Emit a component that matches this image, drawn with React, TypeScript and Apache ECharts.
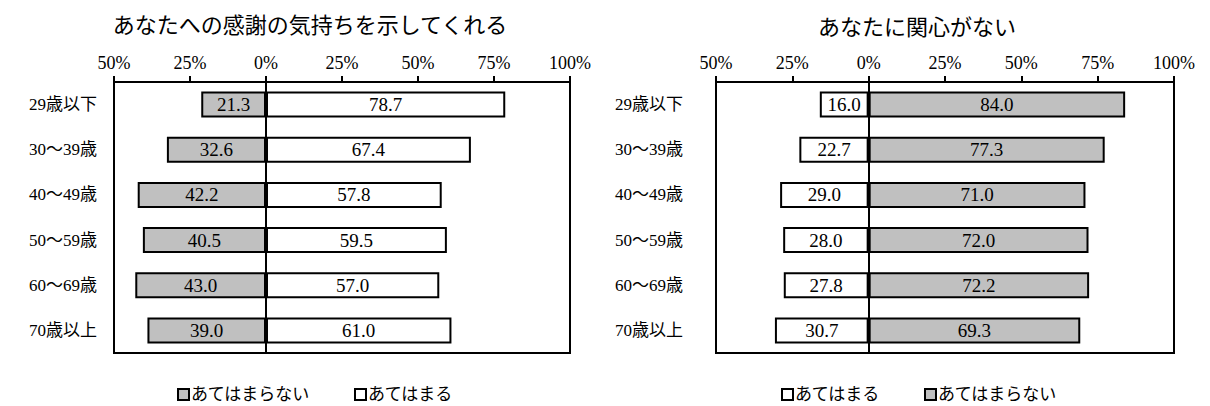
import React, { useEffect, useRef } from "react";
import * as echarts from "echarts";

const categories = ["29歳以下", "30～39歳", "40～49歳", "50～59歳", "60～69歳", "70歳以上"];
const leftTitle = "あなたへの感謝の気持ちを示してくれる";
const rightTitle = "あなたに関心がない";
const thanksNo = [21.3, 32.6, 42.2, 40.5, 43.0, 39.0];
const thanksYes = [78.7, 67.4, 57.8, 59.5, 57.0, 61.0];
const interestYes = [16.0, 22.7, 29.0, 28.0, 27.8, 30.7];
const interestNo = [84.0, 77.3, 71.0, 72.0, 72.2, 69.3];
const YES = "あてはまる";
const NO = "あてはまらない";

const FONT = "'Liberation Serif', 'Noto Sans CJK JP', serif";
const GRAY = "#c0c0c0";

export default function App() {
  const ref = useRef<HTMLDivElement>(null);
  useEffect(() => {
    document.body.style.margin = "0";
    const chart = echarts.init(ref.current!, null, { renderer: "svg" });
    const xAxis = (gridIndex: number) => ({
      type: "value",
      gridIndex,
      position: "top",
      min: -50,
      max: 100,
      interval: 25,
      axisLine: { show: true, lineStyle: { color: "#000", width: 2 } },
      axisTick: { show: true, length: 6, lineStyle: { color: "#000", width: 2 } },
      axisLabel: {
        color: "#000",
        fontSize: 18,
        fontFamily: FONT,
        margin: 10,
        formatter: (v: number) => Math.abs(v) + "%",
      },
      splitLine: { show: false },
    });
    const yAxis = (gridIndex: number, margin: number) => ({
      type: "category",
      gridIndex,
      data: categories,
      inverse: true,
      axisLine: { show: false },
      axisTick: { show: false },
      axisLabel: { color: "#000", fontSize: 17, fontFamily: FONT, margin },
    });
    const label = {
      show: true,
      position: "inside",
      color: "#000",
      fontSize: 19,
      fontFamily: FONT,
      formatter: (p: any) => Math.abs(p.value).toFixed(1),
    };
    const bar = (name: string, data: number[], neg: boolean, color: string, gi: number, withLine: boolean) => ({
      name,
      type: "bar",
      xAxisIndex: gi,
      yAxisIndex: gi,
      stack: "s" + gi,
      barWidth: 26,
      data: data.map((v) => (neg ? -v : v)),
      itemStyle: { color, borderColor: "#000", borderWidth: 2 },
      label,
      markLine: withLine
        ? {
            silent: true,
            symbol: ["none", "none"],
            label: { show: false },
            lineStyle: { color: "#000", width: 2, type: "solid" },
            data: [{ xAxis: 0 }],
            z: 10,
          }
        : undefined,
    });
    const legendBase = {
      top: 381,
      itemWidth: 11,
      itemHeight: 11,
      itemGap: 44,
      icon: "rect",
      textStyle: { color: "#000", fontSize: 17, fontFamily: FONT, padding: [0, 0, 0, -3] },
    };
    chart.setOption({
      animation: false,
      title: [
        { text: leftTitle, left: 305, top: 9, textAlign: "center", textStyle: { fontSize: 22, fontWeight: "normal", color: "#000", fontFamily: FONT } },
        { text: rightTitle, left: 912, top: 11, textAlign: "center", textStyle: { fontSize: 22, fontWeight: "normal", color: "#000", fontFamily: FONT } },
      ],
      legend: [
        { ...legendBase, left: 172, data: [NO, YES] },
        { ...legendBase, left: 776, data: [YES, NO] },
      ],
      grid: [
        { left: 114, right: 640, top: 82, bottom: 53, show: true, borderColor: "#000", borderWidth: 2 },
        { left: 716, right: 36, top: 82, bottom: 53, show: true, borderColor: "#000", borderWidth: 2 },
      ],
      xAxis: [xAxis(0), xAxis(1)],
      yAxis: [yAxis(0, 17), yAxis(1, 33)],
      series: [
        bar(NO, thanksNo, true, GRAY, 0, true),
        bar(YES, thanksYes, false, "#fff", 0, false),
        bar(YES, interestYes, true, "#fff", 1, true),
        bar(NO, interestNo, false, GRAY, 1, false),
      ],
    });
    return () => chart.dispose();
  }, []);
  return <div ref={ref} style={{ width: 1210, height: 406 }} />;
}
